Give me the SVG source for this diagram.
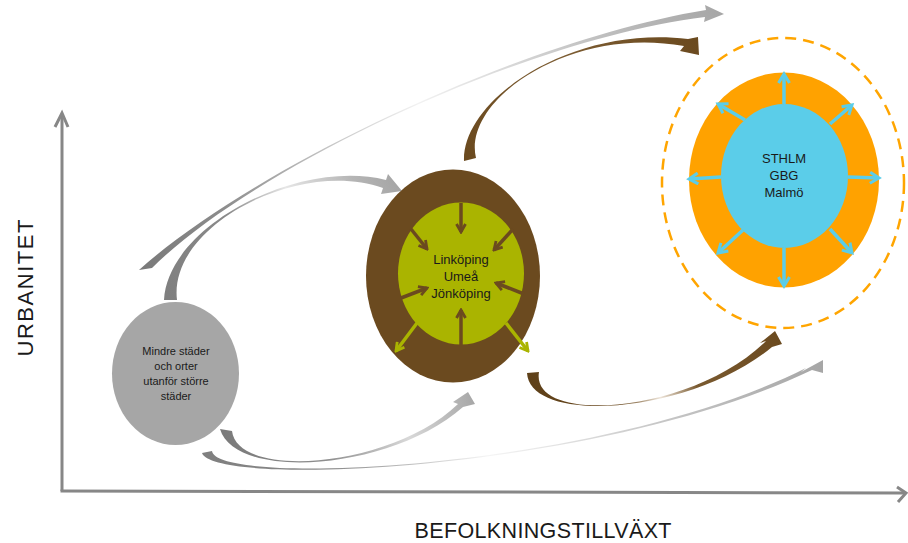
<svg xmlns="http://www.w3.org/2000/svg" width="908" height="543" viewBox="0 0 908 543">
<style>
.t{font-family:"Liberation Sans",Arial,sans-serif;fill:#1a1a1a;text-anchor:middle}
.ax{stroke:#878787;stroke-width:3;fill:none}
.ib{stroke:#6b4a1f;stroke-width:3.5;fill:none;marker-end:url(#mb)}
.ig{stroke:#aab400;stroke-width:3.5;fill:none;marker-end:url(#mg)}
.bl{stroke:#5bcde9;stroke-width:3.5;fill:none;marker-end:url(#mc)}
</style>
<defs>
<marker id="mb" viewBox="0 0 12 12" refX="10" refY="6" markerWidth="12" markerHeight="12" markerUnits="userSpaceOnUse" orient="auto"><path d="M2,1.5 L10,6 L2,10.5" fill="none" stroke="#6b4a1f" stroke-width="2.8"/></marker>
<marker id="mg" viewBox="0 0 12 12" refX="10" refY="6" markerWidth="12" markerHeight="12" markerUnits="userSpaceOnUse" orient="auto"><path d="M2,1.5 L10,6 L2,10.5" fill="none" stroke="#aab400" stroke-width="2.8"/></marker>
<marker id="mc" viewBox="0 0 14 14" refX="11" refY="7" markerWidth="14" markerHeight="14" markerUnits="userSpaceOnUse" orient="auto"><path d="M2,1.5 L11,7 L2,12.5" fill="none" stroke="#5bcde9" stroke-width="3"/></marker>
<linearGradient id="g1" gradientUnits="userSpaceOnUse" x1="145" y1="268" x2="724" y2="14"><stop offset="0" stop-color="#7a7a7a"/><stop offset="0.15" stop-color="#8c8c8c"/><stop offset="0.5" stop-color="#f2f2f2"/><stop offset="0.8" stop-color="#c0c0c0"/><stop offset="1" stop-color="#a6a6a6"/></linearGradient>
<linearGradient id="g2" gradientUnits="userSpaceOnUse" x1="170" y1="300" x2="400" y2="190"><stop offset="0" stop-color="#7f7f7f"/><stop offset="0.35" stop-color="#8a8a8a"/><stop offset="0.6" stop-color="#e6e6e6"/><stop offset="0.85" stop-color="#b5b5b5"/><stop offset="1" stop-color="#a6a6a6"/></linearGradient>
<linearGradient id="g3" gradientUnits="userSpaceOnUse" x1="220" y1="430" x2="475" y2="393"><stop offset="0" stop-color="#7a7a7a"/><stop offset="0.4" stop-color="#8f8f8f"/><stop offset="0.72" stop-color="#d8d8d8"/><stop offset="1" stop-color="#a6a6a6"/></linearGradient>
<linearGradient id="g4" gradientUnits="userSpaceOnUse" x1="202" y1="453" x2="823" y2="362"><stop offset="0" stop-color="#7f7f7f"/><stop offset="0.2" stop-color="#8a8a8a"/><stop offset="0.45" stop-color="#f5f5f5"/><stop offset="0.72" stop-color="#c8c8c8"/><stop offset="1" stop-color="#a6a6a6"/></linearGradient>
<linearGradient id="b1" gradientUnits="userSpaceOnUse" x1="470" y1="160" x2="699" y2="50"><stop offset="0" stop-color="#6b4a1f"/><stop offset="0.5" stop-color="#7d5d33"/><stop offset="1" stop-color="#6b4a1f"/></linearGradient>
<linearGradient id="b2" gradientUnits="userSpaceOnUse" x1="527" y1="373" x2="780" y2="335"><stop offset="0" stop-color="#5e4019"/><stop offset="0.35" stop-color="#6b4a1f"/><stop offset="0.5" stop-color="#eee5da"/><stop offset="0.65" stop-color="#7a5a30"/><stop offset="1" stop-color="#6b4a1f"/></linearGradient>
</defs>

<g id="axes">
<path class="ax" d="M62,491 L62,114"/>
<path class="ax" d="M55,127 L62,113 L68,127"/>
<path class="ax" d="M60.5,491 L905,493"/>
<path class="ax" d="M897,487 L906,493 L898,502"/>
<text class="t" transform="translate(33,288) rotate(-90)" font-size="22" textLength="137" lengthAdjust="spacing">URBANITET</text>
<text class="t" x="543" y="538" font-size="21.5" textLength="257" lengthAdjust="spacing">BEFOLKNINGSTILLVÄXT</text>
</g>

<g id="connectors">
<path fill="url(#g1)" d="M139,270 C250,170 520,40 706,10 L705,5 L724,14 L704,22 L705,17 C520,40 250,170 152,268 Z"/>
<path fill="url(#g2)" d="M164,300 C168,225 300,158 386,180 L388,174 L402,191 L381,194 L383,188 C300,158 168,225 177,300 Z"/>
<path fill="url(#b1)" d="M464,161 C462,100 570,25 688,39 L698,37 L699,55 L680,51 L684,46 C570,25 462,100 476,158 Z"/>
<path fill="url(#b2)" d="M527,373 C530,425 690,415 772,347 L782,344 L775,331 L760,343 L766,341 C690,415 530,425 539,372 Z"/>
<path fill="url(#g3)" d="M220,429 C236,482 392,470 463,407 L475,404 L468,392 L453,402 L458,404 C392,468 238,480 232,431 Z"/>
<path fill="url(#g4)" d="M202,453 C215,488 600,472 812,370 L823,373 L823,360 L801,372 L806,368 C600,471 216,487 212,451 Z"/>
</g>

<g id="node-small">
<ellipse cx="175.5" cy="373.5" rx="63.5" ry="71.5" fill="#a6a6a6"/>
<text class="t" font-size="11"><tspan x="176" y="355">Mindre städer</tspan><tspan x="176" y="370">och orter</tspan><tspan x="176" y="385">utanför större</tspan><tspan x="176" y="400">städer</tspan></text>
</g>

<g id="node-mid">
<ellipse cx="453" cy="276" rx="87" ry="106.5" fill="#6b4a1f"/>
<ellipse cx="461" cy="273.5" rx="63" ry="71" fill="#aab400"/>
<path class="ib" d="M461,203 L461,232"/>
<path class="ib" d="M411,229 L427,249"/>
<path class="ib" d="M513,229 L494,250"/>
<path class="ib" d="M401,298 L427,288"/>
<path class="ib" d="M524,294 L496,283"/>
<path class="ib" d="M461,345 L461,310"/>
<path class="ig" d="M417,323 L396,351"/>
<path class="ig" d="M506,323 L528,351"/>
<text class="t" font-size="13"><tspan x="461" y="264">Linköping</tspan><tspan x="461" y="281">Umeå</tspan><tspan x="461" y="298">Jönköping</tspan></text>
</g>

<g id="node-big">
<ellipse cx="783" cy="183" rx="121" ry="145" fill="none" stroke="#ffa500" stroke-width="2.5" stroke-dasharray="11 7"/>
<ellipse cx="784" cy="180" rx="95" ry="107.5" fill="#ffa200"/>
<ellipse cx="784.5" cy="176" rx="63.5" ry="72" fill="#5bcde9"/>
<path class="bl" d="M784,104 L784,74"/>
<path class="bl" d="M848,177 L879,178"/>
<path class="bl" d="M784,248 L784,286"/>
<path class="bl" d="M721,177 L689,179"/>
<path class="bl" d="M745,120 L718,104"/>
<path class="bl" d="M830,124 L852,105"/>
<path class="bl" d="M743,230 L718,253"/>
<path class="bl" d="M830,229 L852,253"/>
<text class="t" font-size="13"><tspan x="784" y="163">STHLM</tspan><tspan x="784" y="180">GBG</tspan><tspan x="784" y="197">Malmö</tspan></text>
</g>
</svg>
